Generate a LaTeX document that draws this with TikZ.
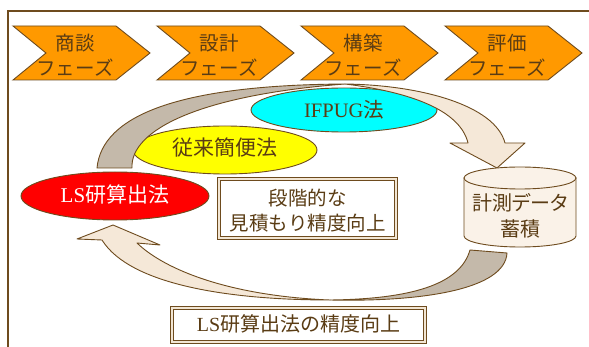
\documentclass[tikz,border=0pt]{standalone}
\usepackage{fontspec}
\setmainfont{Liberation Serif}
\newfontfamily\jp{Noto Sans CJK JP}
\newfontfamily\jpp[RawFeature=+palt]{Noto Sans CJK JP}
\usetikzlibrary{shapes.geometric}
\definecolor{brn}{RGB}{110,75,30}
\definecolor{txtc}{RGB}{90,60,20}
\definecolor{orng}{RGB}{255,153,0}
\definecolor{tanc}{RGB}{196,185,170}
\definecolor{beigec}{RGB}{245,232,216}
\definecolor{cylc}{RGB}{250,242,232}
\definecolor{gapc}{RGB}{242,230,212}
\definecolor{cyanc}{RGB}{0,255,255}
\definecolor{yelc}{RGB}{255,255,0}
\definecolor{redc}{RGB}{255,0,0}
\begin{document}
\begin{tikzpicture}[x=1pt,y=-1pt,
  frameline/.style={draw=brn, line width=1.5pt},
  chev/.style={fill=orng, draw=brn, line width=0.9pt, line join=miter},
  chevtxt/.style={text=txtc, font=\jp\fontsize{19.5}{25}\selectfont, align=center, inner sep=0pt},
  oval/.style={ellipse, draw=brn, line width=0.9pt, inner sep=0pt},
  lbl/.style={text=txtc, font=\fontsize{20}{25}\selectfont, align=center},
  dbox/.style={draw=brn, double=gapc, double distance=1.6pt, line width=0.9pt, fill=white, inner sep=0pt},
  darkband/.style={fill=tanc, draw=brn, line width=0.9pt, line join=round},
  lightband/.style={fill=beigec, draw=brn, line width=0.9pt, line join=round},
  cyl/.style={fill=cylc, draw=brn, line width=0.9pt}]
\useasboundingbox (0,0) rectangle (589,347);
\clip (0,0) rectangle (589,347);
\fill[white] (0,0) rectangle (589,347);
% frame
\draw[frameline] (8,360) -- (8,11) -- (600,11);
% chevrons
\foreach \x/\t [count=\i] in {13/商談, 157/設計, 301/構築, 445/評価}{
  \path[chev] (\x,26) -- ++(103,0) -- ++(34,27) -- ++(-34,27) -- ++(-103,0) -- ++(33,-27) -- cycle;
  \node[chevtxt] (p\i) at (\x+62,55) {\t\\フェーズ};
}
% ovals
\node[oval, fill=cyanc, minimum width=186pt, minimum height=44pt] (ifpug) at (344,110) {};
\node[lbl, font=\fontsize{20.5}{24}\selectfont] at (ifpug.center) {IFPUG{\jp 法}};
\node[oval, fill=yelc, minimum width=184pt, minimum height=48pt] (trad) at (225,150) {};
\node[lbl, font=\jp\fontsize{21}{24}\selectfont] at ([yshift=2pt]trad.center) {従来簡便法};
\node[oval, fill=redc, minimum width=188pt, minimum height=48pt] (ls) at (115,196) {};
\node[lbl, text=white, font=\fontsize{21}{24}\selectfont] at ([yshift=1pt]ls.center) {LS{\jp 研算出法}};
% top arrow
\path[darkband] (97,168) .. controls (102,115) and (180,85) .. (345,84)
  .. controls (200,95) and (130,130) .. (132,168) -- cycle;
\path[lightband] (345,84) .. controls (420,85) and (495,105) .. (505,143)
  -- (525,143) -- (497,168) -- (450,143) -- (468,143)
  .. controls (460,110) and (410,92) .. (345,84) -- cycle;
% cylinder
\path[cyl] (464,178) -- (464,236) arc[start angle=180, end angle=0, x radius=56, y radius=11] -- (576,178) -- cycle;
\path[cyl] (520,178) ellipse[x radius=56, y radius=11];
\node[lbl, font=\jpp\fontsize{20}{26}\selectfont] (db) at (520,216) {計測データ\\蓄積};
% bottom arrow
\path[darkband] (470,250) -- (507,253) .. controls (505,290) and (420,302) .. (330,300)
  .. controls (410,299) and (460,285) .. (470,250) -- cycle;
\path[lightband] (330,300) .. controls (230,300) and (130,285) .. (102,240)
  -- (77,239) -- (113,225) -- (160,245) -- (137,243)
  .. controls (165,270) and (230,296) .. (330,300) -- cycle;
% boxes
\node[dbox, minimum width=177pt, minimum height=59pt] (step) at (307.5,208.5) {};
\node[lbl, font=\jp\fontsize{19.5}{25}\selectfont] at ([yshift=-2pt]step.center) {段階的な\\見積もり精度向上};
\node[dbox, minimum width=253pt, minimum height=34pt] (imp) at (298.5,325) {};
\node[lbl, font=\fontsize{20}{24}\selectfont] at ([yshift=1pt]imp.center) {LS{\jp 研算出法の精度向上}};
\end{tikzpicture}
\end{document}
